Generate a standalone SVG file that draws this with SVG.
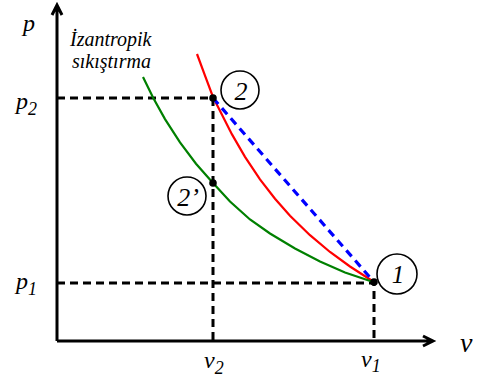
<svg xmlns="http://www.w3.org/2000/svg" width="485" height="381" viewBox="0 0 485 381">
<style>
text{font-family:'Liberation Serif','DejaVu Serif',serif;font-style:italic;fill:#000}
.ax{stroke:#000;stroke-width:3;fill:none}
.dash{stroke:#000;stroke-width:3;stroke-dasharray:8,5;fill:none}
.lbl{fill:#fff;stroke:#000;stroke-width:1.6}
</style>
<rect width="485" height="381" fill="#fff"/>
<g id="connectors">
<path class="dash" d="M57,98 H213 V341"/>
<path class="dash" d="M57,283 H374 V341"/>
<polyline fill="none" stroke="#ff0000" stroke-width="2.2" points="197,54 205,75.6 213,97 222,114.8 232,134.4 245,156.8 260,179.3 275,198.7 290,215.7 310,235.2 330,252 350,266.5 374,282"/>
<polyline fill="none" stroke="#008000" stroke-width="2.2" points="143,77 153,97.5 165,119.1 180,142.4 196,163.7 213,183 230,201.5 250,219.5 270,233.5 295,248.5 320,261.5 345,272.5 374,282.3"/>
<line x1="213" y1="98" x2="374" y2="282" stroke="#0000ff" stroke-width="3.2" stroke-dasharray="8,5.5"/>
</g>
<g id="axes">
<path class="ax" d="M57,341 V5 M52,15 L57,5 L62,15"/>
<path class="ax" d="M57,341 H433 M423,336 L433,341 L423,346"/>
</g>
<g id="points">
<circle cx="213" cy="98" r="3.8"/>
<circle cx="213" cy="183" r="3.8"/>
<circle cx="374" cy="282" r="3.8"/>
</g>
<g id="node2">
<circle class="lbl" cx="240" cy="90" r="19"/>
<text x="241" y="100" font-size="26" text-anchor="middle">2</text>
</g>
<g id="node2p">
<circle class="lbl" cx="187" cy="196" r="19"/>
<text x="188" y="206" font-size="26" text-anchor="middle">2’</text>
</g>
<g id="node1">
<circle class="lbl" cx="397" cy="274" r="20"/>
<text x="398" y="283" font-size="25" text-anchor="middle">1</text>
</g>
<g id="labels">
<text x="23" y="31" font-size="24">p</text>
<text x="70" y="46" font-size="20">İzantropik</text>
<text x="72" y="68" font-size="20">sıkıştırma</text>
<text x="16" y="109" font-size="24">p<tspan font-size="18" dy="6">2</tspan></text>
<text x="16" y="289" font-size="24">p<tspan font-size="18" dy="6">1</tspan></text>
<text x="204" y="368" font-size="24">v<tspan font-size="18" dy="6">2</tspan></text>
<text x="361" y="367" font-size="24">v<tspan font-size="18" dy="5">1</tspan></text>
<text x="460" y="352" font-size="28">v</text>
</g>
</svg>
